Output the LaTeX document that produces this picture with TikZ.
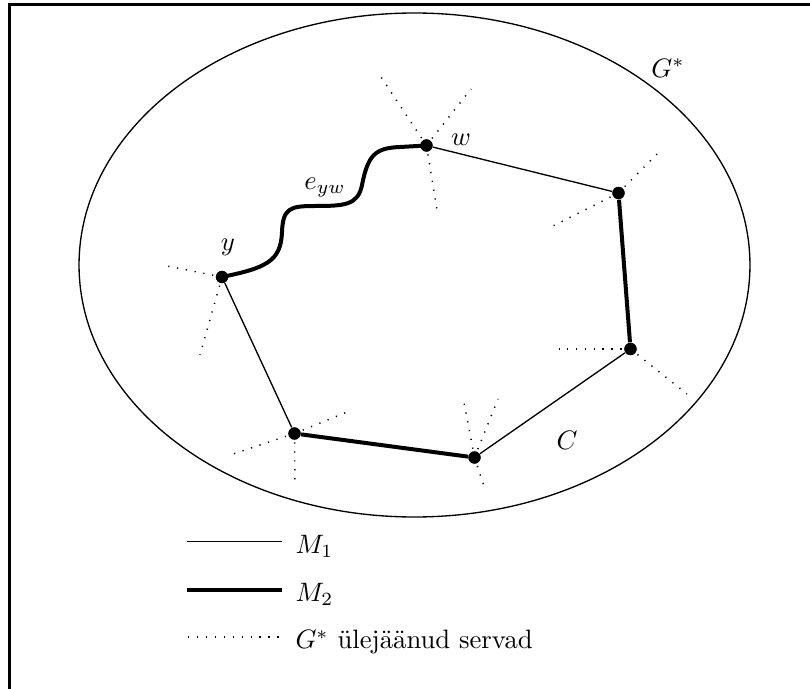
\documentclass[tikz,border=0pt]{standalone}
\begin{document}
\begin{tikzpicture}[x=0.375pt,y=-0.375pt,
  vtx/.style={circle,fill=black,inner sep=0pt,minimum size=4.6pt},
  mone/.style={line width=0.5pt},
  mtwo/.style={line width=1.5pt},
  rest/.style={line width=0.55pt,dash pattern=on 0.45pt off 2.9pt},
  lbl/.style={inner sep=0pt}]
\useasboundingbox (0,0) rectangle (810,689);
% frame
\draw[line width=1.1pt] (9.5,689) -- (9.5,4.5) -- (810,4.5);
% ellipse
\draw[line width=0.5pt] (414.5,265) ellipse [x radius=125.8pt, y radius=94.5pt];
% vertices
\node[vtx] (y) at (222,277) {};
\node[vtx] (w) at (426.5,145.5) {};
\node[vtx] (a) at (618.5,193) {};
\node[vtx] (b) at (630.5,349) {};
\node[vtx] (c) at (474.5,457.5) {};
\node[vtx] (d) at (294.5,433.5) {};
% free ends of other edges
\coordinate (y1) at (162,265);
\coordinate (y2) at (200,355);
\coordinate (w1) at (381,77);
\coordinate (w2) at (471,89);
\coordinate (w3) at (438,216);
\coordinate (a1) at (662,149);
\coordinate (a2) at (547,229);
\coordinate (b1) at (559,349);
\coordinate (b2) at (687,394);
\coordinate (d1) at (227,456);
\coordinate (d2) at (352,410);
\coordinate (d3) at (295,486);
\coordinate (c1) at (463,397);
\coordinate (c2) at (498,399);
\coordinate (c3) at (485,489);
\foreach \u/\v in {y/y1,y/y2,w/w1,w/w2,w/w3,a/a1,a/a2,b/b1,b/b2,d/d1,d/d2,d/d3,c/c1,c/c2,c/c3}
  \draw[rest] (\u.center) -- (\v);
% M1 edges
\draw[mone] (y) -- (d);
\draw[mone] (w) -- (a);
\draw[mone] (b) -- (c);
% M2 edges
\draw[mtwo] (a) -- (b);
\draw[mtwo] (d) -- (c);
\draw[mtwo] (y.center) .. controls (265,268) and (281,262) .. (282,232)
  .. controls (283,208) and (290,206) .. (315,206)
  .. controls (345,206) and (358,205) .. (362,185)
  .. controls (368,155) and (375,148) .. (400,147)
  -- (w.center);
% redraw vertices on top
\foreach \n in {y,w,a,b,c,d} \fill (\n.center) circle (2.3pt);
% labels
\node[lbl] (ly) at (228,247) {$y$};
\node[lbl] (lw) at (461,140) {$w$};
\node[lbl] (le) at (325,188) {$e_{yw}$};
\node[lbl] (lg) at (668,68) {$G^*$};
\node[lbl] (lc) at (567,440) {$C$};
% legend
\coordinate (l1a) at (187,541.5);
\coordinate (l1b) at (282,541.5);
\coordinate (l2a) at (187,590);
\coordinate (l2b) at (282,590);
\coordinate (l3a) at (188,637);
\coordinate (l3b) at (280,637);
\draw[mone] (l1a) -- (l1b);
\draw[mtwo] (l2a) -- (l2b);
\draw[rest] (l3a) -- (l3b);
\node[lbl,anchor=base west] (t1) at (295,554) {$M_1$};
\node[lbl,anchor=base west] (t2) at (295,602) {$M_2$};
\node[lbl,anchor=base west] (t3) at (295,649) {$G^*$ ülejäänud servad};
\end{tikzpicture}
\end{document}
